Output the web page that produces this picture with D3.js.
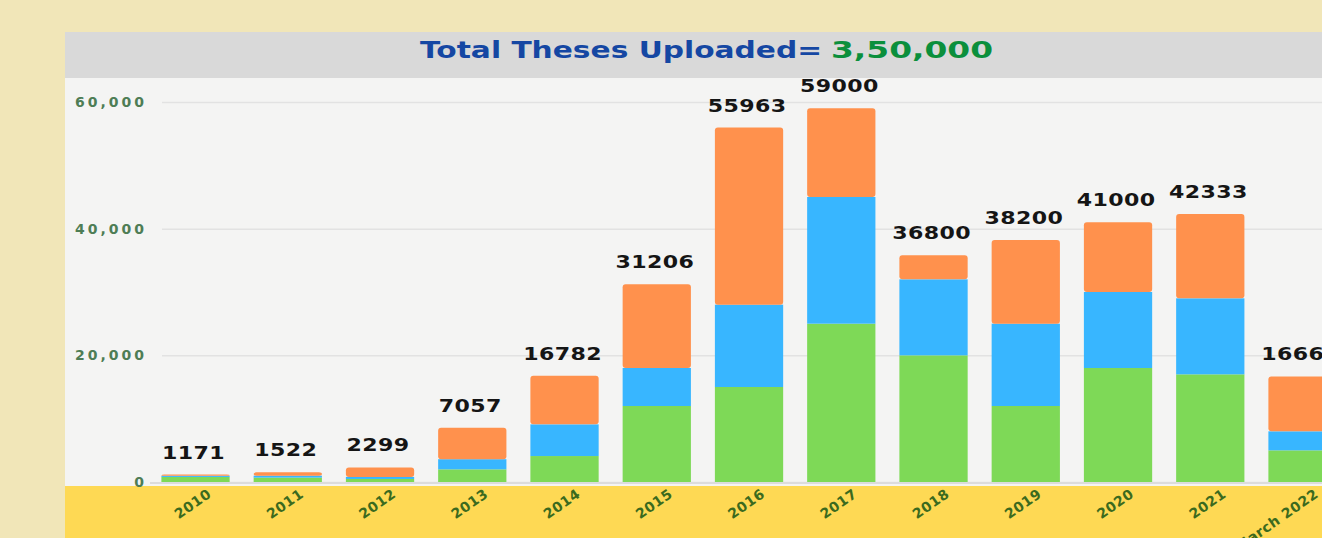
<!DOCTYPE html>
<html>
<head>
<meta charset="utf-8">
<script src="https://cdn.jsdelivr.net/npm/d3@7"></script>
<style>
  html, body { margin: 0; padding: 0; background: #f1e6b8; overflow: hidden; }
  svg { display: block; }
</style>
</head>
<body>
<div id="chart"></div>
<script>
// Theses uploaded per year

var years = ["2010", "2011", "2012", "2013", "2014", "2015", "2016", "2017", "2018", "2019", "2020", "2021", "March 2022"];
var totals = [1171, 1522, 2299, 7057, 16782, 31206, 55963, 59000, 36800, 38200, 41000, 42333, 16667];
var greenPart = [800, 700, 480, 2000, 4100, 12000, 15000, 25000, 20000, 12000, 18000, 17000, 5000];
var bluePart = [180, 300, 320, 1600, 5000, 6000, 13000, 20000, 12000, 13000, 12000, 12000, 3000];
var orangePart = [191, 522, 1499, 4950, 7682, 13206, 27963, 14000, 3800, 13200, 11000, 13333, 8667];
var yTicks = [0, 20000, 40000, 60000];
var titleText = "Total Theses Uploaded=";
var titleTotal = "3,50,000";

var svgWidth = 1322;
var svgHeight = 538;

var svg = d3
    .select("#chart")
    .append("svg")
    .attr("width", svgWidth)
    .attr("height", svgHeight);

// outer background
svg.append("rect")
    .attr("width", svgWidth)
    .attr("height", svgHeight)
    .attr("fill", "#f1e6b8");

// panel
svg.append("rect")
    .attr("x", 65)
    .attr("y", 32)
    .attr("width", svgWidth - 65)
    .attr("height", svgHeight - 32)
    .attr("fill", "#f4f4f3");

// title band
svg.append("rect")
    .attr("x", 65)
    .attr("y", 32)
    .attr("width", svgWidth - 65)
    .attr("height", 46)
    .attr("fill", "#d9d9d9");

// yellow band at the bottom
svg.append("rect")
    .attr("x", 65)
    .attr("y", 486)
    .attr("width", svgWidth - 65)
    .attr("height", svgHeight - 486)
    .attr("fill", "#fed954");

// title
svg.append("text")
    .attr("x", 420)
    .attr("y", 58)
    .attr("textLength", 402)
    .attr("lengthAdjust", "spacingAndGlyphs")
    .attr("font-family", "DejaVu Sans")
    .attr("font-weight", "bold")
    .attr("font-size", 23)
    .attr("fill", "#1547a3")
    .text(titleText);
svg.append("text")
    .attr("x", 831)
    .attr("y", 58)
    .attr("textLength", 162)
    .attr("lengthAdjust", "spacingAndGlyphs")
    .attr("font-family", "DejaVu Sans")
    .attr("font-weight", "bold")
    .attr("font-size", 23)
    .attr("fill", "#0b8f3c")
    .text(titleTotal);

// scales
var xScale = d3
    .scaleBand()
    .domain(years)
    .range([149.4, 149.4 + 13 * 92.25])
    .paddingInner(0.26)
    .paddingOuter(0.13);

var yScale = d3
    .scaleLinear()
    .domain([0, 60000])
    .range([482, 102]);

// gridlines
var grid = svg.append("g")
    .attr("transform", "translate(162, 0)")
    .call(d3.axisRight(yScale).tickValues(yTicks).tickSize(svgWidth - 162).tickFormat(""));
grid.select(".domain").remove();
grid.selectAll("line").attr("stroke", "#e2e2e2").attr("stroke-width", 1.5);

// y axis labels
var yAxis = svg.append("g")
    .attr("transform", "translate(147, 0)")
    .call(d3.axisLeft(yScale).tickValues(yTicks).tickSize(0).tickPadding(0).tickFormat(d3.format(",")));
yAxis.select(".domain").remove();
yAxis.selectAll("text")
    .attr("font-family", "DejaVu Sans")
    .attr("font-weight", "bold")
    .attr("font-size", 14)
    .attr("letter-spacing", 3)
    .attr("fill", "#4e7d55");

// stacked data
var rows = years.map(function(y, i) {
    return { year: y, green: greenPart[i], blue: bluePart[i], orange: orangePart[i], total: totals[i] };
});
var keys = ["green", "blue", "orange"];
var colors = { green: "#7ed957", blue: "#38b6ff", orange: "#ff914d" };
var stacked = d3.stack().keys(keys)(rows);

var bars = svg.append("g");
stacked.forEach(function(layer) {
    bars.append("g")
        .selectAll("rect")
        .data(layer)
        .join("rect")
        .attr("x", (d) => xScale(d.data.year))
        .attr("y", (d) => yScale(d[1]))
        .attr("width", xScale.bandwidth())
        .attr("height", (d) => yScale(d[0]) - yScale(d[1]))
        .attr("rx", layer.key === "orange" ? 3 : 0)
        .attr("fill", colors[layer.key]);
});

// baseline
svg.append("line")
    .attr("x1", 150)
    .attr("x2", svgWidth)
    .attr("y1", yScale(0) + 1)
    .attr("y2", yScale(0) + 1)
    .attr("stroke", "#dcdcdc")
    .attr("stroke-width", 2);

// value labels (wide, heavy digits)
svg.append("g")
    .selectAll("text")
    .data(rows)
    .join("text")
    .attr("transform", (d) => `translate(${xScale(d.year) + xScale.bandwidth() / 2 - 2}, ${yScale(d.green + d.blue + d.orange) - 16}) scale(1.3, 1)`)
    .attr("text-anchor", "middle")
    .attr("font-family", "DejaVu Sans")
    .attr("font-weight", "bold")
    .attr("font-size", 17)
    .attr("letter-spacing", 0.3)
    .attr("fill", "#151515")
    .text((d) => d.total);

// x axis labels
var xAxis = svg.append("g")
    .attr("transform", "translate(0, 486)")
    .call(d3.axisBottom(xScale).tickSize(0));
xAxis.select(".domain").remove();
xAxis.selectAll("text")
    .attr("y", 0)
    .attr("dy", "0.35em")
    .attr("transform", "translate(14, 6) rotate(-35)")
    .style("text-anchor", "end")
    .attr("font-family", "DejaVu Sans")
    .attr("font-weight", "bold")
    .attr("font-size", 14)
    .attr("letter-spacing", 0.5)
    .attr("fill", "#3b6a1e");
</script>
</body>
</html>
